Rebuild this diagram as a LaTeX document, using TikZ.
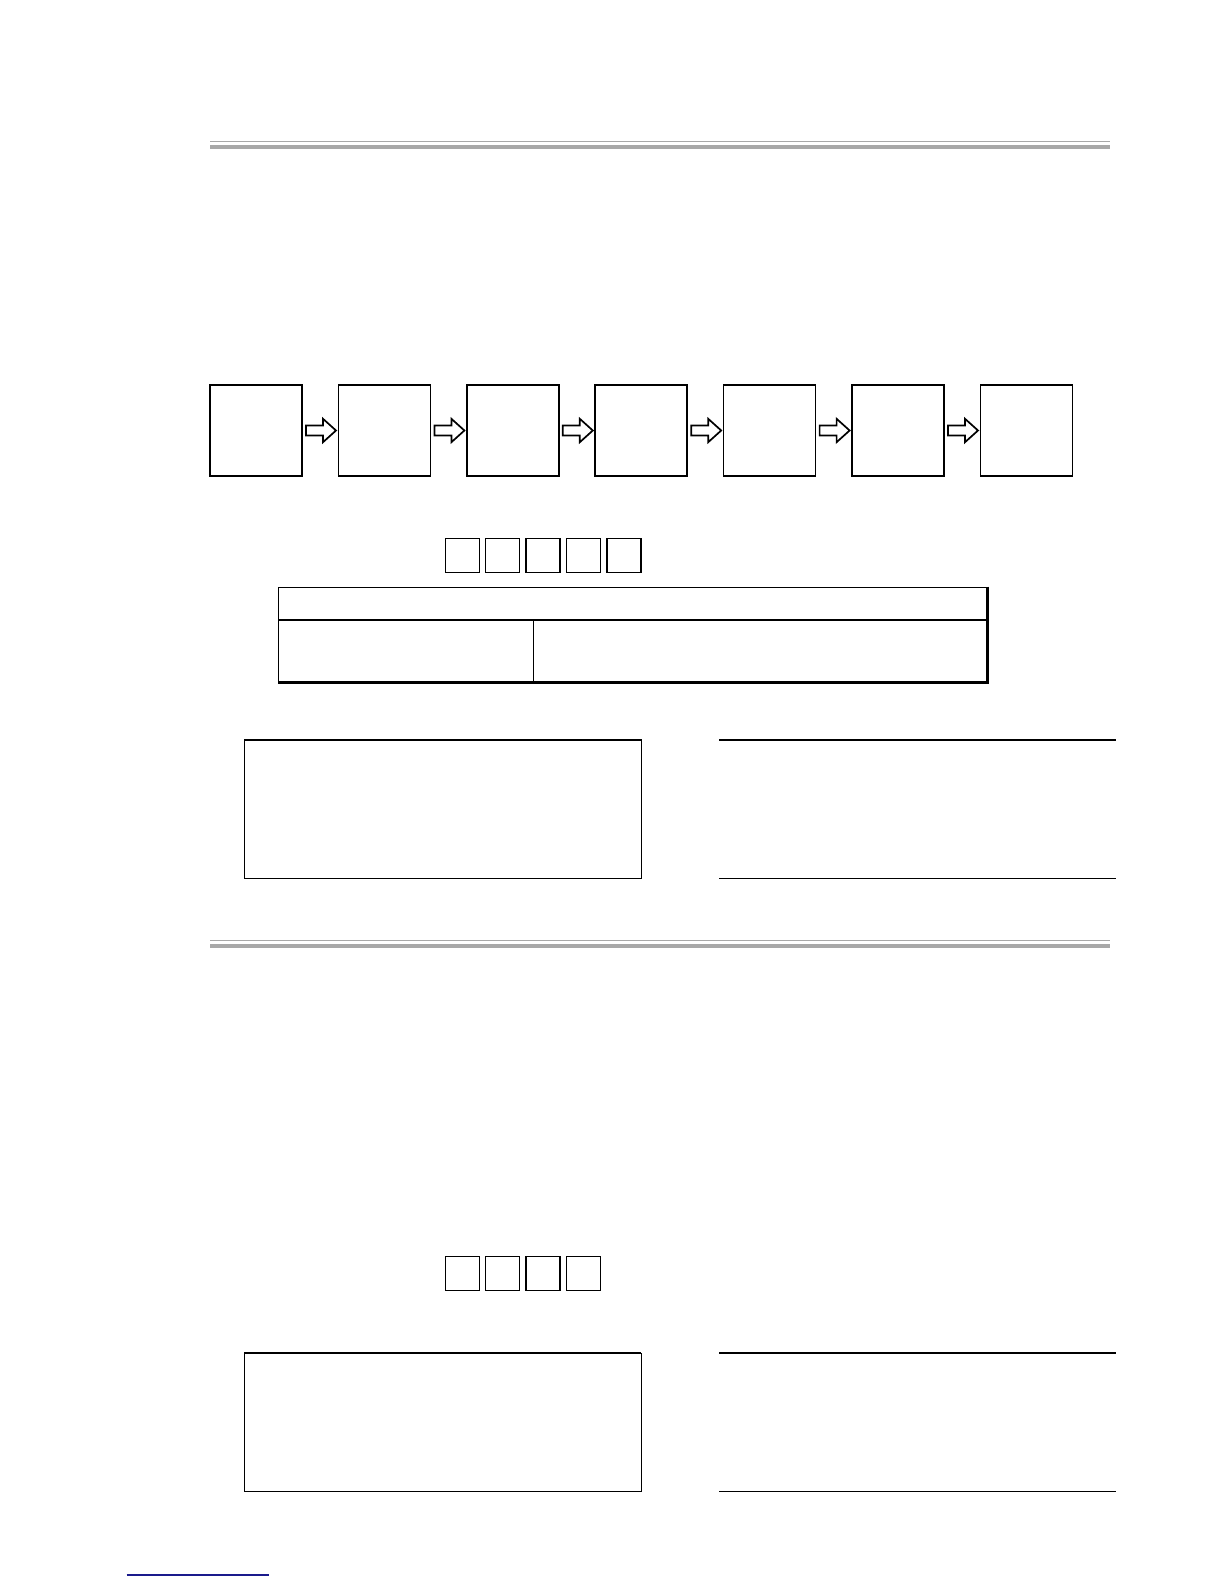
\documentclass[tikz,border=0pt]{standalone}
\usetikzlibrary{calc}
\definecolor{rulegray}{RGB}{168,168,168}
\definecolor{navyline}{RGB}{26,26,140}
\begin{document}
\begin{tikzpicture}[x=0.5pt,y=-0.5pt,
  stepbox/.style={draw,line width=0.85pt,minimum width=46pt,minimum height=45.5pt,inner sep=0pt,outer sep=0pt},
  smallsq/.style={draw,line width=0.75pt,minimum width=17pt,minimum height=17pt,inner sep=0pt,outer sep=0pt},
  blockarrow/.style={draw,line width=0.85pt,fill=white,line join=miter},
  thinrule/.style={draw=rulegray,line width=0.6pt},
  thickrule/.style={draw=rulegray,line width=1.85pt}]
\useasboundingbox (0,0) rectangle (1224,1584);

% section rules
\draw[thinrule] (210,141.3) -- (1110,141.3);
\draw[thickrule] (210,146.8) -- (1110,146.8);
\draw[thinrule] (210,940.7) -- (1110,940.7);
\draw[thickrule] (210,945.7) -- (1110,945.7);

% process chain
\foreach \i in {0,...,6}{
  \node[stepbox] (b\i) at ({256+128.4*\i},430.5) {};
}
\foreach \i [evaluate=\i as \j using int(\i+1)] in {0,...,5}{
  \draw[blockarrow] ($(b\i.east)+(4,-5)$) -- ++(17,0) -- ++(0,-6.7) -- ++(13,11.7)
     -- ++(-13,11.7) -- ++(0,-6.7) -- ++(-17,0) -- cycle;
}

% small squares, first section
\foreach \i in {0,...,4}{
  \node[smallsq] (s\i) at ({462.3+40.4*\i},555.3) {};
}

% table
\draw[line width=0.75pt] (987,682.5) -- (278.7,682.5) -- (278.7,587.3) -- (987,587.3);
\draw[line width=1.5pt] (987,586.6) -- (987,682.5) -- (278,682.5);
\draw[line width=0.75pt] (278.7,620) -- (987,620);
\draw[line width=0.75pt] (533.7,620) -- (533.7,682.5);

% lower boxes, first section
\draw[line width=0.7pt] (244.3,740) rectangle (641.3,878.3);
\draw[line width=1pt] (244.3,740) -- (641.3,740);
\draw[line width=1.1pt] (719,740) -- (1116,740);
\draw[line width=0.7pt] (719,878.3) -- (1116,878.3);

% small squares, second section
\foreach \i in {0,...,3}{
  \node[smallsq] (t\i) at ({462.3+40.4*\i},1273.3) {};
}

% lower boxes, second section
\draw[line width=0.7pt] (244.3,1353.2) rectangle (641.3,1491.6);
\draw[line width=1pt] (244.3,1353.2) -- (641.3,1353.2);
\draw[line width=1.1pt] (719,1353.2) -- (1116,1353.2);
\draw[line width=0.7pt] (719,1491.6) -- (1116,1491.6);

% footer link line
\draw[navyline,line width=0.6pt] (126.7,1575) -- (269,1575);
\end{tikzpicture}
\end{document}
